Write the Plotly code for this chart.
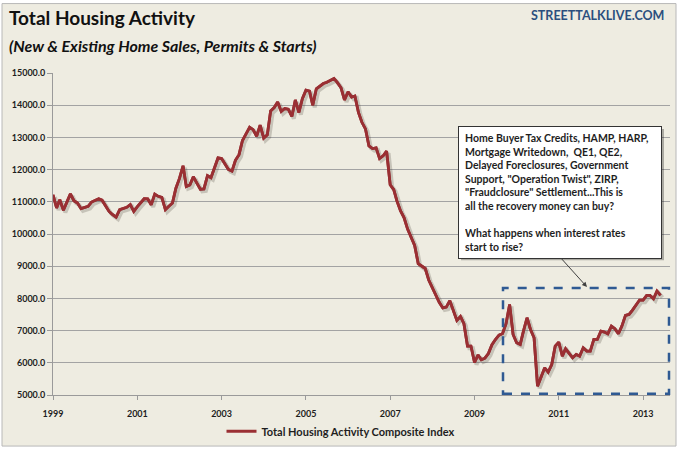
import pandas as pd
import plotly.graph_objects as go

# ---- data (monthly, Jan 1999 - Jun 2013) ----
values = [
    # 1999
    11217, 10808, 11063, 10736, 10990, 11247, 11033, 10960, 10787, 10820, 10859, 10992,
    # 2000
    11040, 11094, 11050, 10859, 10700, 10600, 10521, 10757, 10790, 10828, 10910, 10705,
    # 2001
    10850, 10970, 11094, 11090, 10910, 11237, 11170, 11135, 10757, 10860, 10961, 11421,
    # 2002
    11728, 12117, 11472, 11520, 11779, 11580, 11390, 11400, 11810, 11749, 12035, 12362,
    # 2003
    12342, 12158, 12004, 11953, 12290, 12464, 12904, 13108, 13313, 13241, 13037, 13384,
    # 2004
    12975, 13078, 13824, 13926, 14100, 13804, 13896, 13875, 13650, 14162, 13773, 14202,
    # 2005
    14468, 14438, 13998, 14509, 14591, 14673, 14714, 14760, 14826, 14700, 14541, 14163,
    # 2006
    14418, 14255, 14286, 13776, 13469, 13265, 12735, 12653, 12673, 12347, 12429, 12571,
    # 2007
    11531, 11378, 11020, 10714, 10510, 10153, 9898, 9643, 9082, 9000, 8929, 8571,
    # 2008
    8337, 8133, 7878, 7704, 7730, 7929, 7622, 7316, 7439, 7214, 6520, 6520,
    # 2009
    6010, 6245, 6092, 6143, 6290, 6560, 6724, 6857, 6908, 7214, 7813, 6881,
    # 2010
    6622, 6570, 6984, 7399, 7036, 6777, 5275, 5585, 5845, 5710, 5948, 6518,
    # 2011
    6642, 6207, 6435, 6290, 6155, 6259, 6207, 6466, 6363, 6363, 6725, 6725,
    # 2012
    6984, 6953, 6902, 7140, 7057, 6902, 7140, 7472, 7503, 7637, 7813, 7948,
    # 2013
    7948, 8093, 8093, 7990, 8228, 8093,
]
dates = pd.date_range("1999-01-01", periods=len(values), freq="MS")

tick_years = [1999, 2001, 2003, 2005, 2007, 2009, 2011, 2013]
tick_vals = [pd.Timestamp(f"{y}-01-01") for y in tick_years]
tick_text = [str(y) for y in tick_years]

series_name = "Total Housing Activity Composite Index"
title_text = "Total Housing Activity"
subtitle_text = "(New & Existing Home Sales, Permits & Starts)"
brand_text = "STREETTALKLIVE.COM"
note_text = ("Home Buyer Tax Credits, HAMP, HARP,<br>"
             "Mortgage Writedown,  QE1, QE2,<br>"
             "Delayed Foreclosures, Government<br>"
             "Support, \"Operation Twist\", ZIRP,<br>"
             "\"Fraudclosure\" Settlement...This is<br>"
             "all the recovery money can buy?<br><br>"
             "What happens when interest rates<br>"
             "start to rise?")

# ---- styling ----
BG = "#EEECE1"
LINE = "#9A2F33"
GRID = "#A3A3A3"
FONT = "Lato"
TXT = "#1E1E1E"

# plot area in pixels: left 53, width 617, top 73.3, height 326
def px_x(p):
    return (p - 53) / 617

def px_y(p):
    return (399.3 - p) / 326

x_start = pd.Timestamp("1999-01-01")
x_end = pd.Timestamp("2013-08-22")
y_range = [5000, 15000]

# shadow offset (a couple of pixels right/down)
sx = pd.Timedelta(days=17)
sy = 65

fig = go.Figure()
# base trace (carries the visible axes)
fig.add_trace(go.Scatter(
    x=dates, y=values, mode="lines", showlegend=False, hoverinfo="skip",
    line=dict(color=LINE, width=2.8)))
# soft shadow
fig.add_trace(go.Scatter(
    x=dates, y=values, mode="lines", xaxis="x2", yaxis="y2",
    line=dict(color="rgba(60,50,40,0.22)", width=4),
    showlegend=False, hoverinfo="skip"))
# main line on top
fig.add_trace(go.Scatter(
    x=dates, y=values, mode="lines", name=series_name, xaxis="x3", yaxis="y3",
    line=dict(color=LINE, width=2.8)))

axis_common = dict(showline=True, linecolor="#9A9A9A", linewidth=1,
                   ticks="outside", tickcolor="#9A9A9A")

fig.update_layout(
    width=680, height=456,
    paper_bgcolor="white", plot_bgcolor="rgba(0,0,0,0)",
    margin=dict(l=53, r=10, t=73, b=57),
    font=dict(family=FONT, color=TXT),
    xaxis=dict(type="date", range=[x_start, x_end], tickvals=tick_vals, ticktext=tick_text,
               showgrid=False, zeroline=False, ticklen=4, ticklabelstandoff=6,
               tickfont=dict(family=FONT, size=9, color=TXT, weight="bold"),
               **axis_common),
    yaxis=dict(range=y_range, dtick=1000, tickformat=".1f", showgrid=True,
               gridcolor=GRID, gridwidth=1, zeroline=False, ticklen=5,
               tickfont=dict(family=FONT, size=9, color=TXT, weight="bold"),
               **axis_common),
    xaxis2=dict(type="date", overlaying="x", range=[x_start - sx, x_end - sx], visible=False),
    yaxis2=dict(overlaying="y", range=[y_range[0] + sy, y_range[1] + sy], visible=False),
    xaxis3=dict(type="date", overlaying="x", range=[x_start, x_end], visible=False),
    yaxis3=dict(overlaying="y", range=y_range, visible=False),
    showlegend=True,
    legend=dict(orientation="h", x=px_x(341), xanchor="center", y=px_y(436), yanchor="middle",
                bgcolor="rgba(0,0,0,0)",
                font=dict(family=FONT, size=11, color=TXT, weight="bold")),
)

# chart area background with thin border
fig.add_shape(type="rect", xref="paper", yref="paper",
              x0=px_x(2), x1=px_x(676), y0=px_y(451), y1=px_y(3),
              line=dict(color="#B8B8B8", width=1), fillcolor=BG, layer="below")

# dashed highlight box
fig.add_shape(type="rect", xref="paper", yref="paper",
              x0=px_x(503), x1=px_x(669), y0=px_y(398), y1=px_y(291),
              line=dict(color="#2F5A93", width=2.5, dash="dash"), fillcolor="rgba(0,0,0,0)",
              layer="above")

# note box shadow
fig.add_shape(type="rect", xref="paper", yref="paper",
              x0=px_x(461), x1=px_x(664), y0=px_y(263), y1=px_y(130),
              line=dict(width=0), fillcolor="rgba(0,0,0,0.28)", layer="above")

fig.add_annotation(
    xref="paper", yref="paper", x=px_x(458), y=px_y(127),
    xanchor="left", yanchor="top", text=note_text, showarrow=False,
    align="left", valign="middle", width=190, height=119, borderpad=6,
    bgcolor="white", bordercolor="#333333", borderwidth=1,
    font=dict(family=FONT, size=10.5, color=TXT, weight="bold"))

# arrow from note to box
fig.add_annotation(
    xref="paper", yref="paper", x=px_x(587), y=px_y(290),
    ax=-27, ay=-30, text="", showarrow=True, arrowhead=2, arrowsize=1,
    arrowwidth=1, arrowcolor="#404040")

# titles
fig.add_annotation(xref="paper", yref="paper", x=px_x(7), y=px_y(17),
                   xanchor="left", yanchor="middle", text=title_text, showarrow=False,
                   font=dict(family=FONT, size=19, color="#111111", weight="bold"))
fig.add_annotation(xref="paper", yref="paper", x=px_x(7), y=px_y(45),
                   xanchor="left", yanchor="middle", text=subtitle_text, showarrow=False,
                   font=dict(family=FONT, size=16, color="#111111", weight="bold",
                             style="italic"))
fig.add_annotation(xref="paper", yref="paper", x=px_x(666), y=px_y(15),
                   xanchor="right", yanchor="middle", text=brand_text, showarrow=False,
                   font=dict(family=FONT, size=12.5, color="#2B4F7E", weight="bold"))

fig.write_html("out.html", config={"displayModeBar": False},
               post_script="document.body.style.margin='0';")
